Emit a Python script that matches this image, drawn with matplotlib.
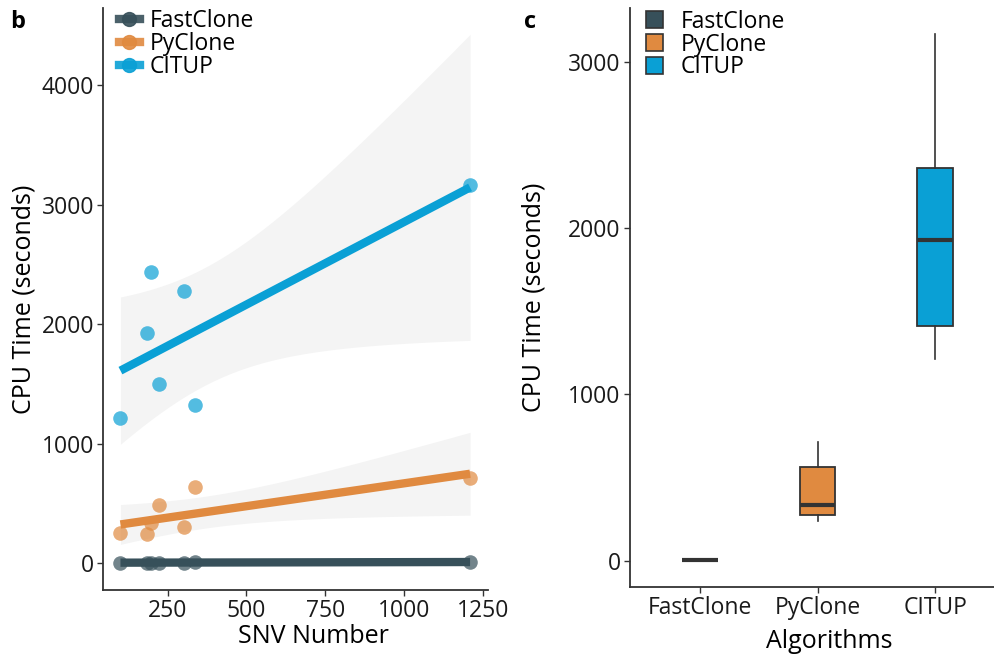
import matplotlib
matplotlib.use("Agg")
import matplotlib.pyplot as plt
import numpy as np
from matplotlib.lines import Line2D
from matplotlib.patches import Patch

plt.rcParams['font.family'] = ['Open Sans', 'DejaVu Sans']

# data
algorithms = ["FastClone", "PyClone", "CITUP"]
colors = ["#37505a", "#e08a40", "#0aa0d5"]
snv = np.array([100, 185, 196, 222, 302, 337, 1210])
fastclone_time = np.array([2, 3, 3, 4, 4, 5, 8])
pyclone_time = np.array([249, 240, 335, 486, 304, 640, 715])
citup_time = np.array([1213, 1925, 2439, 1498, 2280, 1324, 3163])
times = [fastclone_time, pyclone_time, citup_time]

T975_DF5 = 2.5706  # t quantile for 95% CI, n=7
TICK_FS = 16.5
TITLE_FS = 18

fig = plt.figure(figsize=(9.95, 6.57), dpi=100)
ax1 = fig.add_axes([0.1035, 0.102, 0.3865, 0.886])
ax2 = fig.add_axes([0.6327, 0.1065, 0.378, 0.881])

# ---- panel b: scatter + linear fit
xs = np.linspace(snv.min(), snv.max(), 100)
for t, c in zip(times, colors):
    ax1.scatter(snv, t, s=110, color=c, alpha=0.7, lw=0, zorder=2)
for t, c in zip(times, colors):
    b, a = np.polyfit(snv, t, 1)
    resid = t - (a + b * snv)
    n = len(snv)
    s = np.sqrt((resid ** 2).sum() / (n - 2))
    sxx = ((snv - snv.mean()) ** 2).sum()
    se = s * np.sqrt(1 / n + (xs - snv.mean()) ** 2 / sxx)
    fit = a + b * xs
    ax1.fill_between(xs, fit - T975_DF5 * se, fit + T975_DF5 * se,
                     color="#ededed", alpha=0.6, lw=0, zorder=1)
    ax1.plot(xs, fit, color=c, lw=6, solid_capstyle="butt", zorder=3)

ax1.set_xlim(44.5, 1265.5)
ax1.set_ylim(-226, 4650)
ax1.set_xticks([250, 500, 750, 1000, 1250])
ax1.set_yticks([0, 1000, 2000, 3000, 4000])
ax1.set_xlabel("SNV Number", fontsize=TITLE_FS)
ax1.set_ylabel("CPU Time (seconds)", fontsize=TITLE_FS)
ax1.xaxis.set_label_coords(0.547, -0.058)
ax1.yaxis.set_label_coords(-0.174, 0.5)

h1 = [Line2D([], [], color=c, lw=6, marker="o", ms=10, alpha=0.9) for c in colors]
ax1.legend(h1, algorithms, loc="upper left", bbox_to_anchor=(0.0, 1.025),
           frameon=False, fontsize=TICK_FS, handlelength=0.9, handletextpad=0.45,
           labelspacing=-0.05, borderaxespad=0.3)

# ---- panel c: boxplot
bp = ax2.boxplot(times, positions=[1, 2, 3], widths=0.3, patch_artist=True,
                 showcaps=False, showfliers=False,
                 medianprops=dict(color="#333333", lw=3),
                 whiskerprops=dict(color="#333333", lw=1.2),
                 boxprops=dict(edgecolor="#333333", lw=1.3))
for patch, c in zip(bp["boxes"], colors):
    patch.set_facecolor(c)

ax2.set_xlim(0.4, 3.6)
ax2.set_ylim(-158, 3321)
ax2.set_xticks([1, 2, 3])
ax2.set_xticklabels(algorithms)
ax2.set_yticks([0, 1000, 2000, 3000])
ax2.set_xlabel("Algorithms", fontsize=TITLE_FS)
ax2.set_ylabel("CPU Time (seconds)", fontsize=TITLE_FS)
ax2.xaxis.set_label_coords(0.53, -0.072)
ax2.yaxis.set_label_coords(-0.222, 0.5)

h2 = [Patch(facecolor=c, edgecolor="#333333", lw=1.2) for c in colors]
ax2.legend(h2, algorithms, loc="upper left", bbox_to_anchor=(0.0, 1.025),
           frameon=False, fontsize=TICK_FS, handlelength=0.75, handleheight=0.75,
           handletextpad=0.8, labelspacing=-0.05, borderaxespad=0.3)

for ax in (ax1, ax2):
    for side in ("top", "right"):
        ax.spines[side].set_visible(False)
    for side in ("left", "bottom"):
        ax.spines[side].set_color("#333333")
        ax.spines[side].set_linewidth(1.3)
    ax.tick_params(length=4, width=1, color="#333333", labelsize=TICK_FS,
                   labelcolor="#1a1a1a", pad=2.5)

fig.text(0.018, 0.967, "b", fontsize=17, fontweight="bold", ha="center", va="center")
fig.text(0.533, 0.967, "c", fontsize=17, fontweight="bold", ha="center", va="center")

fig.savefig("out.png", dpi=100)
